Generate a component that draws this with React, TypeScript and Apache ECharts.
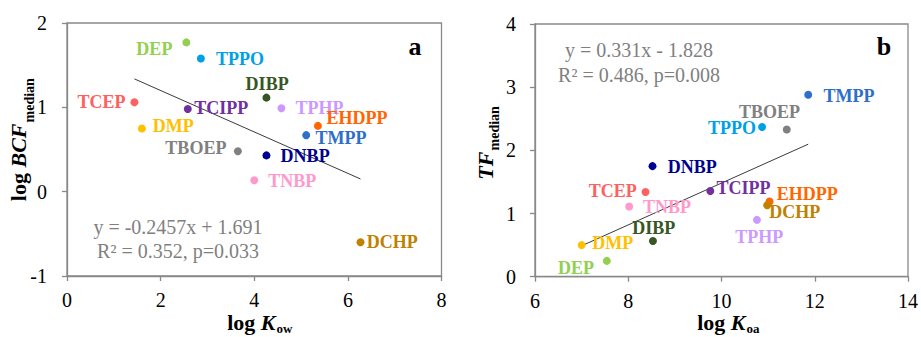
import React, { useEffect, useRef } from "react";
import * as echarts from "echarts";

const compounds = ["DEP", "TPPO", "DIBP", "TCEP", "TCIPP", "TPHP", "EHDPP", "DMP", "TMPP", "TBOEP", "DNBP", "TNBP", "DCHP"];
const logKow = [2.55, 2.86, 4.26, 1.44, 2.58, 4.58, 5.36, 1.6, 5.11, 3.65, 4.26, 4.0, 6.27];
const logBCF = [1.77, 1.58, 1.115, 1.06, 0.98, 0.99, 0.78, 0.75, 0.67, 0.48, 0.43, 0.135, -0.6];
const logKoa = [7.54, 10.87, 8.53, 8.37, 9.76, 10.76, 11.03, 7.0, 11.86, 11.4, 8.52, 8.02, 10.98];
const tfMedian = [0.25, 2.37, 0.565, 1.34, 1.356, 0.9, 1.19, 0.5, 2.88, 2.33, 1.75, 1.11, 1.13];

const fitA = { slope: -0.2457, intercept: 1.691 };
const fitB = { slope: 0.331, intercept: -1.828 };

const colors: Record<string, string> = {
  DEP: "#92D050", TPPO: "#00A0E9", DIBP: "#375623", TCEP: "#FF6060", TCIPP: "#7030A0",
  TPHP: "#CC99FF", EHDPP: "#FF6600", DMP: "#FFC000", TMPP: "#2E6FCB", TBOEP: "#808080",
  DNBP: "#000090", TNBP: "#FF99CC", DCHP: "#C08000",
};

// label placement (style only): offset of label centre from point, px
const labelOffA: Record<string, number[]> = {
  DEP: [-32, 6.5], TPPO: [39, 1], DIBP: [0.7, -13.6], TCEP: [-33, -0.7], TCIPP: [33.5, -1],
  TPHP: [38, 0.3], EHDPP: [39, -7.4], DMP: [31.3, -2.3], TMPP: [34.8, 3], TBOEP: [-42, -2.7],
  DNBP: [38.7, 0.3], TNBP: [38, 0.6], DCHP: [31.7, -0.3],
};
const labelOffB: Record<string, number[]> = {
  DEP: [-30.8, 7.3], TPPO: [-30, 0.7], DIBP: [0.9, -12.7], TCEP: [-32.7, -1.3], TCIPP: [33.2, -3.3],
  TPHP: [2.4, 16.7], EHDPP: [37.8, -7.3], DMP: [31.1, -2], TMPP: [40.7, 1.3], TBOEP: [-17.3, -17.6],
  DNBP: [39.8, 0.7], TNBP: [37.9, 0], DCHP: [27.5, 6.7],
};

const SERIF = '"Liberation Serif", "Times New Roman", serif';

function scatterData(xs: number[], ys: number[], offs: Record<string, number[]>) {
  return compounds.map((n, i) => ({
    name: n,
    value: [xs[i], ys[i]],
    itemStyle: { color: colors[n], opacity: 1 },
    label: {
      show: true,
      formatter: n,
      position: "inside",
      offset: offs[n],
      color: colors[n],
      fontSize: 18,
      fontWeight: "bold",
      fontFamily: SERIF,
    },
  }));
}

function fitLine(xs: number[], fit: { slope: number; intercept: number }) {
  const x0 = Math.min(...xs);
  const x1 = Math.max(...xs);
  return [
    [x0, fit.slope * x0 + fit.intercept],
    [x1, fit.slope * x1 + fit.intercept],
  ];
}

const axisCommon = {
  type: "value" as const,
  splitLine: { show: false },
  axisLine: { show: true, onZero: false, lineStyle: { color: "#898989", width: 1.3 } },
  axisTick: { show: true, length: 5, lineStyle: { color: "#898989", width: 1.3 } },
};

function txt(text: string, x: number, y: number, font: string, fill: string, align = "center", va = "middle", rich?: any) {
  const style: any = { text, x, y, font, fill, align, verticalAlign: va, textAlign: align, textVerticalAlign: va };
  if (rich) style.rich = rich;
  return { type: "text", style, z: 10 };
}

const richTitle = {
  n: { fontFamily: SERIF, fontWeight: "bold", fontSize: 22, fill: "#000", color: "#000" },
  i: { fontFamily: SERIF, fontWeight: "bold", fontStyle: "italic", fontSize: 22, fill: "#000", color: "#000" },
};

export default function App() {
  const ref = useRef<HTMLDivElement>(null);
  useEffect(() => {
    document.body.style.margin = "0";
    const chart = echarts.init(ref.current!, undefined, { renderer: "svg" });
    const option: any = {
      animation: false,
      grid: [
        { left: 67, top: 23, width: 374.5, height: 253, show: true, borderColor: "#898989", borderWidth: 1.3, backgroundColor: "transparent" },
        { left: 535, top: 24, width: 374, height: 252.7, show: true, borderColor: "#898989", borderWidth: 1.3, backgroundColor: "transparent" },
      ],
      xAxis: [
        { ...axisCommon, gridIndex: 0, min: 0, max: 8, interval: 2, axisLabel: { fontSize: 20, fontFamily: SERIF, color: "#000", margin: 14 } },
        { ...axisCommon, gridIndex: 1, min: 6, max: 14, interval: 2, axisLabel: { fontSize: 20, fontFamily: SERIF, color: "#000", margin: 14 } },
      ],
      yAxis: [
        { ...axisCommon, gridIndex: 0, min: -1, max: 2, interval: 1, axisLabel: { fontSize: 20, fontFamily: SERIF, color: "#000", margin: 20 } },
        { ...axisCommon, gridIndex: 1, min: 0, max: 4, interval: 1, axisLabel: { fontSize: 20, fontFamily: SERIF, color: "#000", margin: 19 } },
      ],
      series: [
        {
          type: "line", xAxisIndex: 0, yAxisIndex: 0, data: fitLine(logKow, fitA), symbol: "none",
          lineStyle: { color: "#3a3a3a", width: 1 }, z: 1, silent: true,
        },
        {
          type: "line", xAxisIndex: 1, yAxisIndex: 1, data: fitLine(logKoa, fitB), symbol: "none",
          lineStyle: { color: "#3a3a3a", width: 1 }, z: 1, silent: true,
        },
        { type: "scatter", xAxisIndex: 0, yAxisIndex: 0, symbolSize: 8, data: scatterData(logKow, logBCF, labelOffA), z: 3 },
        { type: "scatter", xAxisIndex: 1, yAxisIndex: 1, symbolSize: 8, data: scatterData(logKoa, tfMedian, labelOffB), z: 3 },
      ],
      graphic: [
        txt("y = -0.2457x + 1.691", 178, 227, `20px ${SERIF}`, "#7f7f7f"),
        txt("R² = 0.352, p=0.033", 178, 251, `20px ${SERIF}`, "#7f7f7f"),
        txt("y = 0.331x - 1.828", 639, 50, `20px ${SERIF}`, "#7f7f7f"),
        txt("R² = 0.486, p=0.008", 639, 75, `20px ${SERIF}`, "#7f7f7f"),
        txt("a", 415, 46, `bold 26px ${SERIF}`, "#000"),
        txt("b", 884, 46, `bold 26px ${SERIF}`, "#000"),
        // x titles
        txt("{n|log }{i|K}", 275.5, 322, `bold 22px ${SERIF}`, "#000", "right", "middle", richTitle),
        txt("ow", 276.5, 328, `bold 13px ${SERIF}`, "#000", "left", "middle"),
        txt("{n|log }{i|K}", 745.5, 322, `bold 22px ${SERIF}`, "#000", "right", "middle", richTitle),
        txt("oa", 746.5, 328, `bold 13px ${SERIF}`, "#000", "left", "middle"),
        // y titles
        {
          type: "group", x: 18, y: 123.5, rotation: Math.PI / 2,
          children: [
            txt("{n|log }{i|BCF}", 0, 0, `bold 22px ${SERIF}`, "#000", "right", "middle", richTitle),
            txt("median", 1, 11, `bold 14px ${SERIF}`, "#000", "left", "middle"),
          ],
        },
        {
          type: "group", x: 485, y: 151.5, rotation: Math.PI / 2,
          children: [
            txt("{i|TF}", 0, 0, `bold 22px ${SERIF}`, "#000", "right", "middle", richTitle),
            txt("median", 1, 9, `bold 14px ${SERIF}`, "#000", "left", "middle"),
          ],
        },
      ],
    };
    chart.setOption(option);
    return () => chart.dispose();
  }, []);
  return <div ref={ref} style={{ width: 921, height: 337 }} />;
}
